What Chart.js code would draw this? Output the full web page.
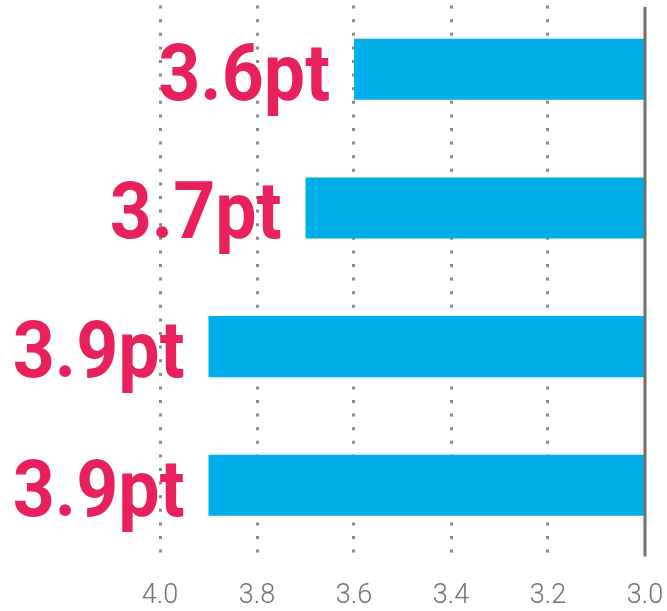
<!DOCTYPE html>
<html>
<head>
<meta charset="utf-8">
<script src="https://cdn.jsdelivr.net/npm/chart.js@4"></script>
<style>
  html, body { margin: 0; padding: 0; background: #ffffff; }
  #wrap { width: 667px; height: 611px; }
</style>
</head>
<body>
<div id="wrap"><canvas id="c" width="667" height="611"></canvas></div>
<script>
// ---- data ----
const categories = ["Item 1", "Item 2", "Item 3", "Item 4"];
const values = [3.6, 3.7, 3.9, 3.9];
const valueSuffix = "pt";
const axisMin = 3.0;
const axisMax = 4.0;
const tickStep = 0.2;

const BAR_COLOR = "#00aeea";
const LABEL_COLOR = "#e8215a";
const GRID_COLOR = "#8a8a8a";
const BASE_LINE_COLOR = "#707070";
const TICK_COLOR = "#727272";

const valueLabels = {
  id: "valueLabels",
  afterDatasetsDraw(chart) {
    const ctx = chart.ctx;
    const meta = chart.getDatasetMeta(0);
    ctx.save();
    ctx.fillStyle = LABEL_COLOR;
    ctx.font = "bold 79px Roboto, 'Liberation Sans', sans-serif";
    ctx.textAlign = "right";
    ctx.textBaseline = "alphabetic";
    meta.data.forEach((bar, i) => {
      const v = chart.data.datasets[0].data[i];
      const props = bar.getProps(["x", "y", "height"], true);
      ctx.save();
      ctx.translate(props.x - 24, props.y + props.height / 2);
      ctx.scale(0.93, 1);
      ctx.fillText(v.toFixed(1) + valueSuffix, 0, 0);
      ctx.restore();
    });
    ctx.restore();
  }
};

const baseLine = {
  id: "baseLine",
  afterDatasetsDraw(chart) {
    const xs = chart.scales.x;
    const area = chart.chartArea;
    const px = xs.getPixelForValue(axisMin);
    const ctx = chart.ctx;
    ctx.save();
    ctx.strokeStyle = BASE_LINE_COLOR;
    ctx.lineWidth = 3;
    ctx.beginPath();
    ctx.moveTo(px, area.top + 7);
    ctx.lineTo(px, area.bottom + 2);
    ctx.stroke();
    ctx.restore();
  }
};

new Chart(document.getElementById("c"), {
  type: "bar",
  data: {
    labels: categories,
    datasets: [{
      data: values,
      backgroundColor: BAR_COLOR,
      borderWidth: 0,
      categoryPercentage: 1.0,
      barPercentage: 0.44
    }]
  },
  options: {
    indexAxis: "y",
    responsive: false,
    animation: false,
    devicePixelRatio: 1,
    layout: { padding: { left: 160, right: 22, top: 0, bottom: -1 } },
    plugins: {
      legend: { display: false },
      tooltip: { enabled: false },
      title: { display: false }
    },
    scales: {
      x: {
        type: "linear",
        min: axisMin,
        max: axisMax,
        reverse: true,
        ticks: {
          stepSize: tickStep,
          color: TICK_COLOR,
          padding: 0,
          font: { family: "Roboto, 'Liberation Sans', sans-serif", size: 27, weight: "300" },
          callback: (v) => Number(v).toFixed(1),
          maxRotation: 0,
          autoSkip: false
        },
        grid: {
          drawTicks: true,
          tickLength: 25,
          tickColor: "rgba(0,0,0,0)",
          color: (ctx) => (ctx.tick && Math.abs(ctx.tick.value - axisMin) < 1e-9) ? "rgba(0,0,0,0)" : GRID_COLOR,
          lineWidth: 3
        },
        border: { display: false, dash: [3, 10.6], dashOffset: 8 }
      },
      y: {
        display: false,
        grid: { display: false }
      }
    }
  },
  plugins: [baseLine, valueLabels]
});
</script>
</body>
</html>
